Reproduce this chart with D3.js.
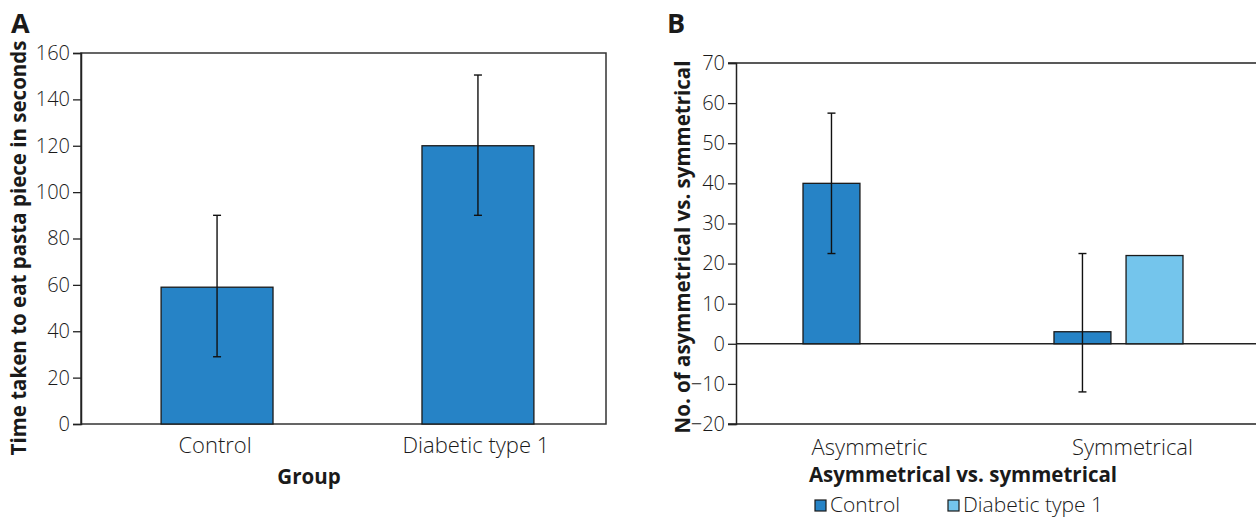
<!DOCTYPE html>
<html>
<head>
<meta charset="utf-8">
<script src="https://cdn.jsdelivr.net/npm/d3@7"></script>
<style>
  body { margin: 0; background: #fff; }
  svg text { font-family: "Open Sans", "Noto Sans", sans-serif; fill: #1a1a1a; }
  .tick-label { font-weight: 300; font-size: 20px; }
  .cat-label { font-weight: 300; font-size: 22px; }
  .legend-label { font-weight: 300; font-size: 21px; }
  .title { font-weight: 700; font-size: 20.5px; }
</style>
</head>
<body>
<svg width="1256" height="517"></svg>
<script>
// Panel A data
const groupsA = ['Control', 'Diabetic type 1'];
const meansA = [59, 120];
const lowA = [29, 90];
const highA = [90, 150.5];
const ticksA = [0, 20, 40, 60, 80, 100, 120, 140, 160];

// Panel B data
const groupsB = ['Asymmetric', 'Symmetrical'];
const seriesB = ['Control', 'Diabetic type 1'];
const controlB = [40, 3];
const diabeticB = [null, 22];
const controlLowB = [22.5, -12];
const controlHighB = [57.5, 22.5];
const ticksB = [-20, -10, 0, 10, 20, 30, 40, 50, 60, 70];

const colors = ['#2683c6', '#74c5ec'];
const svg = d3.select('svg');
const fmt = d => d < 0 ? '\u2212' + Math.abs(d) : '' + d;

// ---------------- Panel A ----------------
const yA = d3.scaleLinear().domain([0, 160]).range([424, 53]);
const xA = d3.scaleBand().domain(groupsA).range([81, 614]).paddingInner(0.571).paddingOuter(0.307);
const leftA = 81, rightA = 606;

// frame
svg.append('rect').attr('x', leftA).attr('y', yA(160)).attr('width', rightA - leftA)
    .attr('height', yA(0) - yA(160)).attr('fill', 'none').attr('stroke', '#333').attr('stroke-width', 1.5);

// y axis with outside ticks
const axA = svg.append('g').attr('transform', `translate(${leftA},0)`)
    .call(d3.axisLeft(yA).tickValues(ticksA).tickSize(8).tickPadding(3).tickFormat(fmt));
axA.select('.domain').attr('stroke', '#222').attr('stroke-width', 1.5);
axA.selectAll('.tick line').attr('stroke', '#222').attr('stroke-width', 1.3);
axA.selectAll('.tick text').attr('class', 'tick-label').attr('font-family', null).attr('font-size', null);

svg.selectAll('.barA').data(meansA).join('rect')
    .attr('x', (d, i) => xA(groupsA[i]))
    .attr('y', d => yA(d))
    .attr('width', xA.bandwidth())
    .attr('height', d => yA(0) - yA(d))
    .attr('fill', colors[0]).attr('stroke', '#1a1a1a').attr('stroke-width', 1.3);

// error bars
meansA.forEach((d, i) => {
    const cx = xA(groupsA[i]) + xA.bandwidth() / 2;
    const g = svg.append('g').attr('stroke', '#111').attr('stroke-width', 1.4);
    g.append('line').attr('x1', cx).attr('x2', cx).attr('y1', yA(lowA[i])).attr('y2', yA(highA[i]));
    g.append('line').attr('x1', cx - 4).attr('x2', cx + 4).attr('y1', yA(lowA[i])).attr('y2', yA(lowA[i]));
    g.append('line').attr('x1', cx - 4).attr('x2', cx + 4).attr('y1', yA(highA[i])).attr('y2', yA(highA[i]));
});

groupsA.forEach(g => {
    svg.append('text').attr('class', 'cat-label').attr('x', xA(g) + xA.bandwidth() / 2 - 2).attr('y', 453)
        .attr('text-anchor', 'middle').text(g);
});
svg.append('text').attr('class', 'title').attr('x', 309).attr('y', 484).attr('text-anchor', 'middle').text('Group');
svg.append('text').attr('class', 'title').attr('transform', 'translate(26,248) rotate(-90)')
    .attr('text-anchor', 'middle').text('Time taken to eat pasta piece in seconds');
svg.append('text').attr('x', 11).attr('y', 33).style('font-weight', 700).style('font-size', '27px').text('A');

// ---------------- Panel B ----------------
const yB = d3.scaleLinear().domain([-20, 70]).range([424, 63]);
const x0 = d3.scaleBand().domain(groupsB).range([736, 1250]).paddingInner(0.486).paddingOuter(0.267);
const x1 = d3.scaleBand().domain(seriesB).range([0, x0.bandwidth()]).paddingInner(0.21);
const leftB = 736;

// top, zero and bottom lines
[70, 0, -20].forEach(v => {
    svg.append('line').attr('x1', v === 0 ? leftB : leftB - 8).attr('x2', 1256)
        .attr('y1', yB(v)).attr('y2', yB(v)).attr('stroke', '#222').attr('stroke-width', 1.5);
});

const axB = svg.append('g').attr('transform', `translate(${leftB},0)`)
    .call(d3.axisLeft(yB).tickValues(ticksB).tickSize(8).tickPadding(3).tickFormat(fmt));
axB.select('.domain').attr('stroke', '#222').attr('stroke-width', 1.5);
axB.selectAll('.tick line').attr('stroke', '#222').attr('stroke-width', 1.3);
axB.selectAll('.tick text').attr('class', 'tick-label').attr('font-family', null).attr('font-size', null);

const barsB = [];
groupsB.forEach((g, i) => {
    barsB.push({ group: g, series: seriesB[0], value: controlB[i], color: colors[0] });
    if (diabeticB[i] !== null) barsB.push({ group: g, series: seriesB[1], value: diabeticB[i], color: colors[1] });
});
svg.selectAll('.barB').data(barsB).join('rect')
    .attr('x', d => x0(d.group) + x1(d.series))
    .attr('y', d => yB(Math.max(0, d.value)))
    .attr('width', x1.bandwidth())
    .attr('height', d => Math.abs(yB(d.value) - yB(0)))
    .attr('fill', d => d.color).attr('stroke', '#1a1a1a').attr('stroke-width', 1.3);

groupsB.forEach((g, i) => {
    const cx = x0(g) + x1(seriesB[0]) + x1.bandwidth() / 2;
    const e = svg.append('g').attr('stroke', '#111').attr('stroke-width', 1.4);
    e.append('line').attr('x1', cx).attr('x2', cx).attr('y1', yB(controlLowB[i])).attr('y2', yB(controlHighB[i]));
    e.append('line').attr('x1', cx - 4).attr('x2', cx + 4).attr('y1', yB(controlLowB[i])).attr('y2', yB(controlLowB[i]));
    e.append('line').attr('x1', cx - 4).attr('x2', cx + 4).attr('y1', yB(controlHighB[i])).attr('y2', yB(controlHighB[i]));
});

groupsB.forEach((g, i) => {
    svg.append('text').attr('class', 'cat-label').attr('x', x0(g) + x0.bandwidth() / 2 + (i ? 14 : 2)).attr('y', 455)
        .attr('text-anchor', 'middle').text(g);
});
svg.append('text').attr('class', 'title').attr('x', 963).attr('y', 482).attr('text-anchor', 'middle')
    .text('Asymmetrical vs. symmetrical');
svg.append('text').attr('class', 'title').attr('transform', 'translate(690,247) rotate(-90)')
    .attr('text-anchor', 'middle').text('No. of asymmetrical vs. symmetrical');
svg.append('text').attr('x', 667).attr('y', 33).style('font-weight', 700).style('font-size', '27px').text('B');

// legend
const legX = [815, 948];
seriesB.forEach((s, i) => {
    svg.append('rect').attr('x', legX[i]).attr('y', 500).attr('width', 11).attr('height', 11)
        .attr('fill', colors[i]).attr('stroke', '#1a1a1a').attr('stroke-width', 1.2);
    svg.append('text').attr('class', 'legend-label').attr('x', legX[i] + 15).attr('y', 512).text(s);
});
</script>
</body>
</html>
